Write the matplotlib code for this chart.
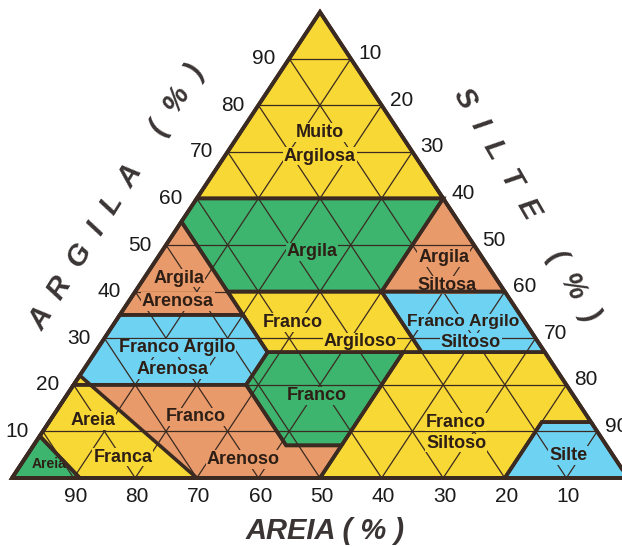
import numpy as np
import matplotlib.pyplot as plt
from matplotlib.patches import Polygon

plt.rcParams["font.family"] = ["Liberation Sans", "DejaVu Sans"]

# texture classes, vertices as (argila %, areia %); silte = 100 - argila - areia
muito_argilosa = [(60, 40), (60, 0), (100, 0)]
argila = [(60, 40), (60, 0), (40, 20), (40, 45), (55, 45)]
argila_siltosa = [(60, 0), (40, 0), (40, 20)]
argila_arenosa = [(55, 45), (35, 45), (35, 65)]
franco_argiloso = [(40, 45), (40, 20), (27, 20), (27, 45)]
franco_argilo_siltoso = [(40, 20), (40, 0), (27, 0), (27, 20)]
franco_argilo_arenoso = [(35, 65), (35, 45), (27, 45), (20, 52), (20, 80)]
franco = [(27, 45), (27, 23), (7, 43), (7, 52), (20, 52)]
franco_siltoso = [(27, 23), (27, 0), (12, 0), (12, 8), (0, 20), (0, 50)]
silte = [(12, 0), (0, 0), (0, 20), (12, 8)]
franco_arenoso = [(20, 80), (20, 52), (7, 52), (7, 43), (0, 50), (0, 100)]
areia_franca = [(22, 78), (0, 70), (0, 89), (9, 91)]
areia = [(9, 91), (0, 89), (0, 100)]

ticks = [10, 20, 30, 40, 50, 60, 70, 80, 90]

AMARELO = "#f8d834"
VERDE = "#3db56e"
LARANJA = "#e99a6a"
AZUL = "#6ed2f2"
LINHA = "#3a2a22"
TEXTO = "#2e1f16"


def tern(pts):
    pts = np.asarray(pts, dtype=float)
    arg, are = pts[:, 0], pts[:, 1]
    sil = 100 - arg - are
    return np.column_stack([sil + arg / 2, arg])


fig = plt.figure(figsize=(6.22, 5.47), dpi=100)
ax = fig.add_axes([0, 0, 1, 1])
ax.set_xlim(-1.95, 99.03)
ax.set_ylim(-14.81, 102.58)
ax.axis("off")

classes = [
    (muito_argilosa, AMARELO),
    (argila, VERDE),
    (argila_siltosa, LARANJA),
    (argila_arenosa, LARANJA),
    (franco_argiloso, AMARELO),
    (franco_argilo_siltoso, AZUL),
    (franco_argilo_arenoso, AZUL),
    (franco, VERDE),
    (franco_siltoso, AMARELO),
    (silte, AZUL),
    (franco_arenoso, LARANJA),
    (areia_franca, AMARELO),
    (areia, VERDE),
]

for pts, cor in classes:
    ax.add_patch(Polygon(tern(pts), closed=True, facecolor=cor,
                         edgecolor="none", zorder=1))

# 10 % grid
for k in ticks:
    for seg in ([(k, 100 - k), (k, 0)],
                [(0, k), (100 - k, k)],
                [(0, 100 - k), (100 - k, 0)]):
        xy = tern(seg)
        ax.plot(xy[:, 0], xy[:, 1], color=LINHA, lw=0.9, zorder=2)

for pts, cor in classes:
    ax.add_patch(Polygon(tern(pts), closed=True, fill=False,
                         edgecolor=LINHA, lw=2.6, joinstyle="miter", zorder=4))

tri = tern([(0, 100), (0, 0), (100, 0)])
ax.add_patch(Polygon(tri, closed=True, fill=False, edgecolor=LINHA,
                     lw=2.8, zorder=5))

# class names
rotulos = [
    ("Muito", 50.0, 74.2, AMARELO, 13),
    ("Argilosa", 50.0, 69.1, AMARELO, 13),
    ("Argila", 48.7, 48.5, VERDE, 13),
    ("Argila", 27.1, 42.9, LARANJA, 13),
    ("Arenosa", 26.9, 37.8, LARANJA, 13),
    ("Argila", 70.1, 47.4, LARANJA, 13),
    ("Siltosa", 70.6, 41.4, LARANJA, 13),
    ("Franco", 45.5, 33.3, AMARELO, 13),
    ("Argiloso", 56.5, 29.2, AMARELO, 13),
    ("Franco Argilo", 73.2, 33.5, AZUL, 12.5),
    ("Siltoso", 74.5, 29.0, AZUL, 13),
    ("Franco Argilo", 26.8, 27.9, AZUL, 13),
    ("Arenosa", 26.1, 23.2, AZUL, 13),
    ("Franco", 49.4, 17.6, VERDE, 13),
    ("Franco", 29.9, 13.1, LARANJA, 13),
    ("Arenoso", 37.5, 3.9, LARANJA, 13),
    ("Areia", 13.1, 12.4, AMARELO, 13),
    ("Franca", 18.0, 4.5, AMARELO, 13),
    ("Areia", 6.0, 3.0, None, 10),
    ("Franco", 72.1, 12.0, AMARELO, 13),
    ("Siltoso", 72.1, 7.5, AMARELO, 13),
    ("Silte", 90.3, 4.9, AZUL, 13),
]
for txt, x, y, cor, fs in rotulos:
    caixa = None
    if cor is not None:
        caixa = dict(boxstyle="square,pad=0.05", facecolor=cor,
                     edgecolor="none")
    ax.text(x, y, txt, ha="center", va="center", fontsize=fs,
            fontweight="bold", color=TEXTO, zorder=3, bbox=caixa)

# tick labels
for k in ticks:
    # argila, left edge
    xy = tern([(k, 100 - k)])[0]
    ax.annotate(str(k), xy, xytext=(-14, 0), textcoords="offset pixels",
                ha="right", va="center", fontsize=15, color="#1a1a1a")
    # silte, right edge
    xy = tern([(100 - k, 0)])[0]
    ax.annotate(str(k), xy, xytext=(8, 5), textcoords="offset pixels",
                ha="left", va="center", fontsize=15, color="#1a1a1a")
    # areia, bottom
    xy = tern([(0, k)])[0]
    ax.annotate(str(k), xy, xytext=(2, -19), textcoords="offset pixels",
                ha="center", va="center", fontsize=15, color="#1a1a1a")

ax.text(50.9, -11.4, "AREIA ( % )", ha="center", va="center", fontsize=21,
        fontweight="bold", fontstyle="italic", color="#3a3434")
ax.text(17.0, 60.3, "A  R  G  I  L  A     (  %  )", ha="center", va="center",
        fontsize=21, fontweight="bold", fontstyle="italic", color="#3a3434",
        rotation=58, rotation_mode="anchor")
ax.text(83.5, 58.6, "S  I  L  T  E     (  %  )", ha="center", va="center",
        fontsize=21, fontweight="bold", fontstyle="italic", color="#3a3434",
        rotation=-60, rotation_mode="anchor")

fig.savefig("out.png", dpi=100)
